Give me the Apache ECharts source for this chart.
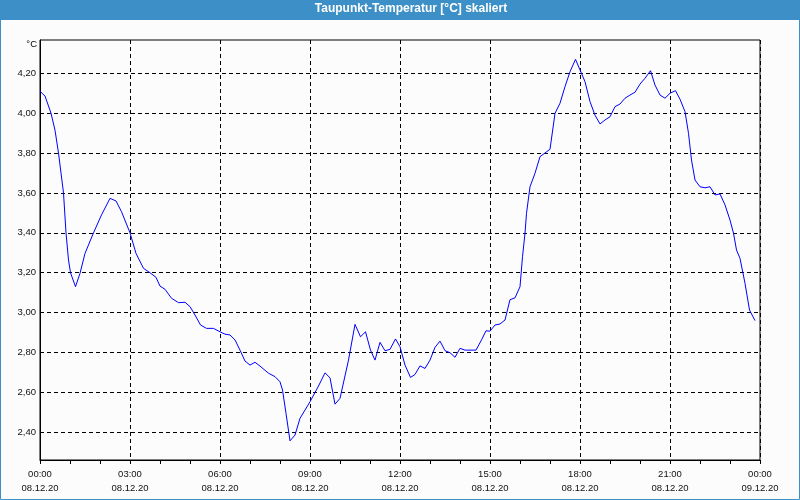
<!DOCTYPE html>
<html>
<head>
<meta charset="utf-8">
<script src="https://cdn.jsdelivr.net/npm/echarts@6/dist/echarts.min.js"></script>
<style>html,body{margin:0;padding:0;background:#fbfcfb;}#c{width:800px;height:500px;}</style>
</head>
<body>
<div id="c"></div>
<script>
// time in minutes since 08.12.20 00:00
const minutes = [0,10,22,30,37,42,47,52,57,61,71,80,90,107,123,140,152,163,180,192,207,220,232,240,250,263,277,290,300,310,321,333,347,360,370,380,390,400,410,420,430,440,457,470,480,485,492,500,510,520,540,557,570,580,590,600,617,630,641,651,661,670,680,690,700,711,720,730,741,750,760,770,780,790,800,810,820,830,840,850,872,883,892,900,910,920,930,940,950,960,965,970,973,980,990,1000,1020,1030,1040,1050,1060,1071,1080,1090,1100,1110,1120,1130,1140,1150,1160,1170,1180,1190,1200,1210,1221,1230,1240,1250,1260,1271,1280,1290,1297,1303,1310,1320,1330,1340,1350,1360,1370,1380,1387,1393,1400,1410,1419,1430];
const dewpoint = [4.11,4.086,4.00,3.915,3.80,3.70,3.60,3.40,3.264,3.20,3.13,3.197,3.297,3.40,3.49,3.573,3.56,3.506,3.40,3.297,3.222,3.20,3.177,3.133,3.117,3.072,3.05,3.052,3.03,2.988,2.938,2.921,2.921,2.904,2.892,2.888,2.863,2.812,2.757,2.737,2.751,2.732,2.696,2.679,2.653,2.612,2.495,2.357,2.386,2.47,2.553,2.632,2.698,2.673,2.541,2.57,2.762,2.941,2.879,2.904,2.812,2.762,2.851,2.809,2.816,2.868,2.829,2.737,2.675,2.69,2.733,2.72,2.762,2.826,2.857,2.809,2.799,2.776,2.821,2.812,2.812,2.863,2.909,2.907,2.938,2.943,2.963,3.065,3.074,3.13,3.28,3.398,3.498,3.631,3.699,3.782,3.819,3.999,4.05,4.133,4.208,4.27,4.217,4.158,4.058,3.99,3.946,3.966,3.982,4.033,4.046,4.075,4.091,4.105,4.146,4.175,4.213,4.141,4.091,4.075,4.10,4.113,4.07,4.008,3.899,3.765,3.665,3.631,3.626,3.631,3.59,3.595,3.54,3.464,3.398,3.314,3.272,3.147,3.013,2.96];
const yTicks = [2.4,2.6,2.8,3.0,3.2,3.4,3.6,3.8,4.0,4.2];
const xDates = ['08.12.20','09.12.20'];
const titleText = 'Taupunkt-Temperatur [°C] skaliert';
const unitText = '°C';

const chart = echarts.init(document.getElementById('c'), null, {renderer:'canvas'});
const font = 'Liberation Sans';
const data = minutes.map((m,i)=>[m, dewpoint[i]]);
chart.setOption({
  backgroundColor: '#fbfcfb',
  animation: false,
  graphic: [
    {type:'rect', shape:{x:0,y:0,width:800,height:20}, style:{fill:'#3c90c7'}},
    {type:'rect', shape:{x:0.5,y:0.5,width:799,height:499}, style:{fill:'none', stroke:'#3c90c7', lineWidth:1}},
    {type:'text', x:411, y:9, style:{text:titleText, fill:'#ffffff', font:'bold 12px '+font, align:'center', verticalAlign:'middle'}},
    {type:'text', x:37, y:44, style:{text:unitText, fill:'#000000', font:'9.5px '+font, align:'right', verticalAlign:'middle'}}
  ],
  grid: {left:40, right:40, top:40, bottom:40, show:true, borderColor:'#000', borderWidth:1, backgroundColor:'transparent'},
  xAxis: {
    type:'value', min:0, max:1440, interval:180,
    axisLine:{show:true, lineStyle:{color:'#000', width:1}},
    axisTick:{show:true, length:4, inside:false, lineStyle:{color:'#000'}},
    minorTick:{show:true, splitNumber:3, length:4, lineStyle:{color:'#000'}},
    splitLine:{show:true, lineStyle:{color:'#000', type:[4,3], width:1}},
    axisLabel:{
      margin:7, color:'#111', fontFamily:font, fontSize:9.5, lineHeight:14,
      formatter: v => {
        const h = Math.round(v/60) % 24;
        const d = v >= 1440 ? xDates[1] : xDates[0];
        return (h<10?'0':'')+h+':00\n'+d;
      }
    }
  },
  yAxis: {
    type:'value', min:2.261, max:4.367,
    axisLine:{show:true, lineStyle:{color:'#000', width:1}},
    axisTick:{show:false, customValues: yTicks},
    splitLine:{show:true, lineStyle:{color:'#000', type:[4,3], width:1}},
    axisLabel:{customValues: yTicks, margin:4, color:'#111', fontFamily:font, fontSize:9.5,
      formatter: v => v.toFixed(2).replace('.', ',')}
  },
  series: [{
    type:'line', data:data, showSymbol:false, symbol:'none', smooth:false,
    lineStyle:{color:'#0000ff', width:1}
  }]
});
</script>
</body>
</html>
